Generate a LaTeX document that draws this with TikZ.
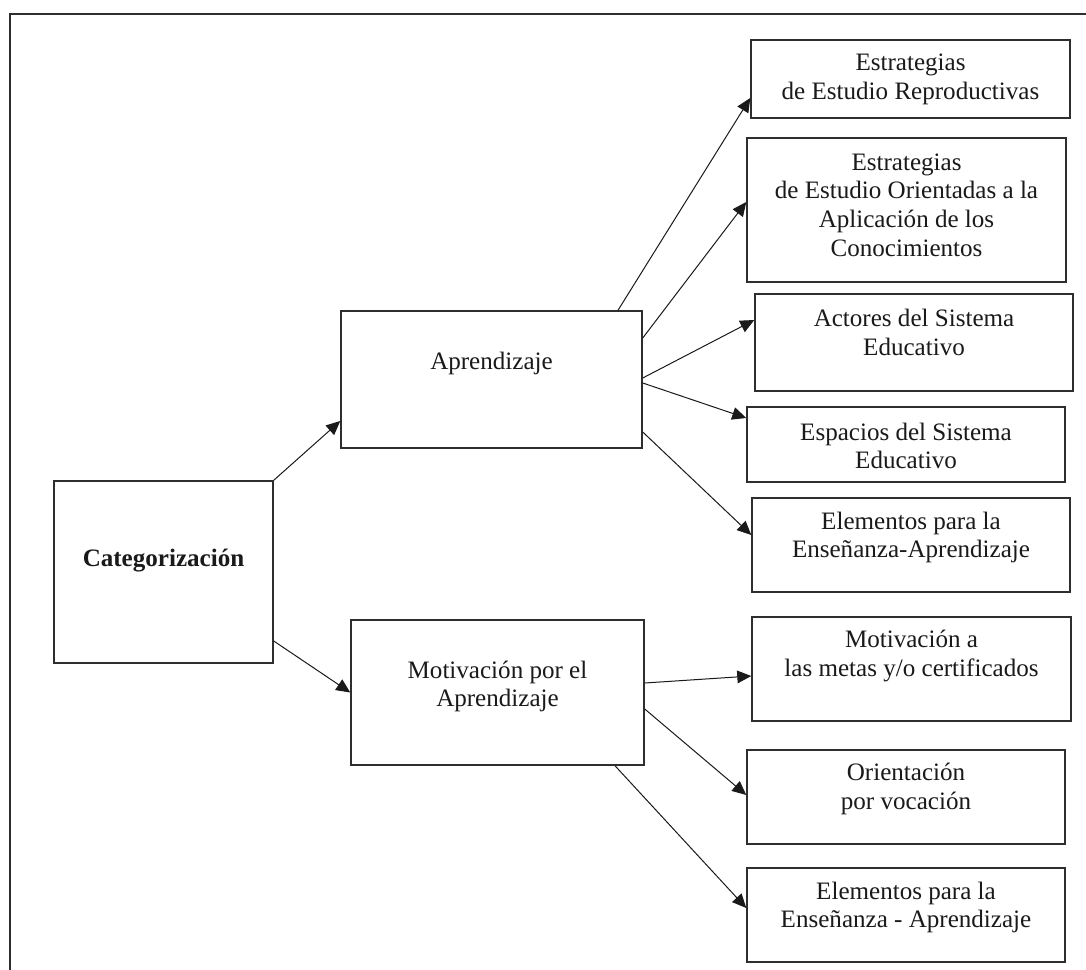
\documentclass[tikz,border=0pt]{standalone}
\usepackage{fontspec}
\setmainfont{Liberation Serif}
\usetikzlibrary{arrows.meta}
\definecolor{ink}{HTML}{1A1A1A}
\definecolor{frame}{HTML}{2E2E2E}
\begin{document}
\begin{tikzpicture}[x=0.75pt,y=-0.75pt,
  box/.style={draw=frame, line width=1.1pt, inner sep=0pt, fill=white},
  lbl/.style={align=center, font=\fontsize{18.8}{21.5}\selectfont, inner sep=0pt, text=ink},
  conn/.style={draw=ink, line width=0.75pt, -{Triangle[length=10.5pt,width=9.5pt]}},
  outer/.style={draw=frame, line width=1.1pt}]
\useasboundingbox (0,0) rectangle (1086,970);
\fill[white] (0,0) rectangle (1086,970);
% outer frame (open at right and bottom)
\draw[outer] (1086,14) -- (10,14) -- (10,970);

% boxes
\node[box, minimum width=219*0.75pt, minimum height=182*0.75pt] (cat) at (163.5,572) {};
\node[box, minimum width=301*0.75pt, minimum height=137*0.75pt] (apr) at (491.5,379.5) {};
\node[box, minimum width=293*0.75pt, minimum height=145*0.75pt] (mot) at (497.5,692.5) {};
\node[box, minimum width=319*0.75pt, minimum height=78*0.75pt] (b1) at (910.5,79) {};
\node[box, minimum width=319*0.75pt, minimum height=144*0.75pt] (b2) at (906.5,210) {};
\node[box, minimum width=318*0.75pt, minimum height=97*0.75pt] (b3) at (914,342.5) {};
\node[box, minimum width=318*0.75pt, minimum height=75*0.75pt] (b4) at (906,444.5) {};
\node[box, minimum width=318*0.75pt, minimum height=94*0.75pt] (b5) at (911,545) {};
\node[box, minimum width=319*0.75pt, minimum height=104*0.75pt] (b6) at (911.5,669) {};
\node[box, minimum width=318*0.75pt, minimum height=94*0.75pt] (b7) at (906,797) {};
\node[box, minimum width=318*0.75pt, minimum height=94*0.75pt] (b8) at (906,915) {};

% texts
\node[lbl, font=\fontsize{18.8}{21.5}\selectfont\bfseries] (tcat) at (163.5,561) {Categorización};
\node[lbl] (tapr) at (491.5,363) {Aprendizaje};
\node[lbl] (tmot) at (497.5,686.5) {Motivación por el\\Aprendizaje};
\node[lbl] (t1) at (910.5,79.5) {Estrategias\\de Estudio Reproductivas};
\node[lbl] (t2) at (906.5,205) {Estrategias\\de Estudio Orientadas a la\\Aplicación de los\\Conocimientos};
\node[lbl] (t3) at (914,332.5) {Actores del Sistema\\Educativo};
\node[lbl] (t4) at (906,446) {Espacios del Sistema\\Educativo};
\node[lbl] (t5) at (911,537.5) {Elementos para la\\Enseñanza-Aprendizaje};
\node[lbl] (t6) at (911.5,656) {Motivación a\\las metas y/o certificados};
\node[lbl] (t7) at (906,789) {Orientación\\por vocación};
\node[lbl] (t8) at (906,907.5) {Elementos para la\\Enseñanza - Aprendizaje};

% connectors
\draw[conn] (cat.north east) -- ([yshift=-41.5*0.75pt]apr.west);
\draw[conn] ([yshift=-69*0.75pt]cat.east) -- (mot.west);
\draw[conn] ([xshift=126.5*0.75pt]apr.north) -- ([yshift=-19*0.75pt]b1.west);
\draw[conn] ([yshift=41.5*0.75pt]apr.east) -- ([yshift=8*0.75pt]b2.west);
\draw[conn] ([yshift=1.5*0.75pt]apr.east) -- ([yshift=22.5*0.75pt]b3.west);
\draw[conn] ([yshift=-3.5*0.75pt]apr.east) -- ([yshift=26.5*0.75pt]b4.west);
\draw[conn] ([yshift=-52.5*0.75pt]apr.east) -- ([yshift=10*0.75pt]b5.west);
\draw[conn] ([yshift=9.5*0.75pt]mot.east) -- ([yshift=-7*0.75pt]b6.west);
\draw[conn] ([yshift=-16.5*0.75pt]mot.east) -- ([yshift=2*0.75pt]b7.west);
\draw[conn] ([xshift=117.5*0.75pt]mot.south) -- ([yshift=7*0.75pt]b8.west);
\end{tikzpicture}
\end{document}
